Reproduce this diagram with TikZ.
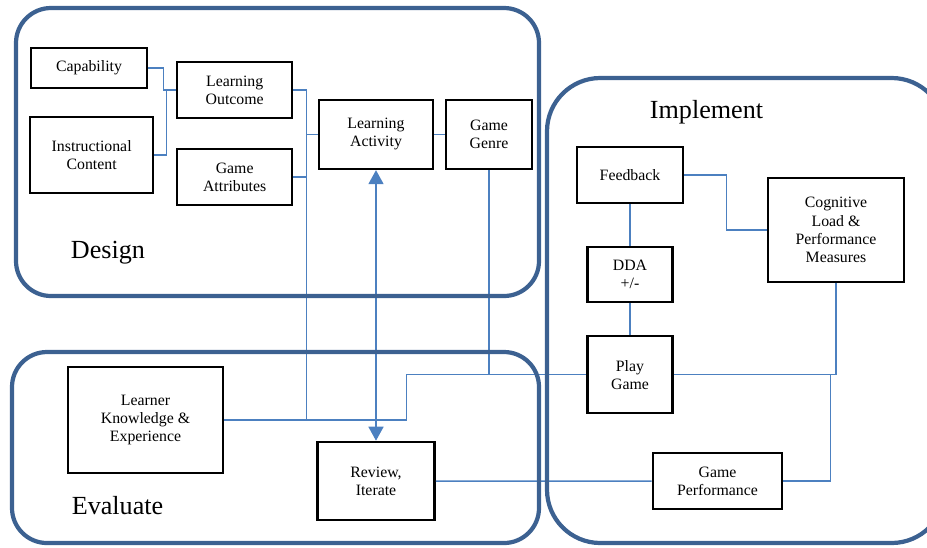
\documentclass[tikz,border=0pt]{standalone}
\usepackage{fontspec}
\setmainfont{Liberation Serif}
\usetikzlibrary{arrows.meta, positioning}
\definecolor{phaseblue}{RGB}{60,97,145}
\definecolor{linkblue}{RGB}{76,128,192}
\tikzstyle{stage} = [rectangle, draw=black, line width=2.2pt, fill=white, align=center, inner sep=0pt, font=\fontsize{13.5}{15.5}\selectfont]
\tikzstyle{phase} = [draw=phaseblue, line width=3.6pt, rounded corners=1.05cm]
\tikzstyle{phaselabel} = [anchor=base, inner sep=0pt, font=\fontsize{22.3}{26}\selectfont]
\tikzstyle{link} = [draw=linkblue, line width=1.3pt]

\begin{document}
\begin{tikzpicture}[node distance=2cm]
\useasboundingbox (0,0) rectangle (27.81,-16.41);
\clip (0,0) rectangle (27.81,-16.41);
\node (cap) [stage, minimum width=3.48cm, minimum height=1.2cm] at (2.67,-2.04) {Capability};
\node (ic) [stage, below of=cap, xshift=0.08cm, yshift=-0.61cm, minimum width=3.69cm, minimum height=2.28cm] {Instructional\\Content};
\node (lo) [stage, below of=cap, xshift=4.37cm, yshift=1.34cm, minimum width=3.45cm, minimum height=1.68cm] {Learning\\Outcome};
\node (ga) [stage, below of=lo, xshift=0cm, yshift=-0.61cm, minimum width=3.45cm, minimum height=1.68cm] {Game\\Attributes};
\node (la) [stage, below of=lo, xshift=4.24cm, yshift=0.67cm, minimum width=3.42cm, minimum height=2.07cm] {Learning\\Activity};
\node (gg) [stage, below of=la, xshift=3.39cm, yshift=2cm, minimum width=2.58cm, minimum height=2.07cm] {Game\\Genre};
\node (lke) [stage, below of=ic, xshift=1.615cm, yshift=-5.95cm, minimum width=4.65cm, minimum height=3.18cm] {Learner\\Knowledge \&\\Experience};
\node (rev) [stage, below of=la, xshift=0cm, yshift=-8.4cm, minimum width=3.51cm, minimum height=2.34cm] {Review,\\Iterate};
\node (fb) [stage, below of=gg, xshift=4.23cm, yshift=0.78cm, minimum width=3.18cm, minimum height=1.68cm] {Feedback};
\node (dda) [stage, below of=fb, xshift=0cm, yshift=-0.99cm, minimum width=2.55cm, minimum height=1.65cm] {DDA\\+/-};
\node (pg) [stage, below of=dda, xshift=0cm, yshift=-1cm, minimum width=2.55cm, minimum height=2.31cm] {Play\\Game};
\node (clpm) [stage, below of=fb, xshift=6.18cm, yshift=0.35cm, minimum width=4.08cm, minimum height=3.12cm] {Cognitive\\Load \&\\Performance\\Measures};
\node (gp) [stage, below of=pg, xshift=2.625cm, yshift=-1.19cm, minimum width=3.87cm, minimum height=1.68cm] {Game\\Performance};

\node (design) [phaselabel] at (3.24,-7.74) {Design};
\node (evaluate) [phaselabel] at (3.525,-15.42) {Evaluate};
\node (implement) [phaselabel] at (21.195,-3.54) {Implement};

% design links
\draw[link] (cap.east) -- ++(0.45,0) |- (lo.west);
\draw[link] (ic.east) -- ++(0.36,0) |- (lo.west);
\draw[link] (lo.east) -- ++(0.39,0) coordinate (bus) -- (bus |- lke.east);
\draw[link] (ga.east) -- (ga.east -| bus);
\draw[link] (la.west) -- (la.west -| bus);
\draw[link] (la.east) -- (gg.west);
% evaluate links
\draw[link] (lke.east) -- ++(5.46,0) |- (pg.west);
\draw[link] (gg.south) -- (gg.south |- pg.west);
\draw[link, {Triangle[length=4.2mm,width=4.5mm]}-{Triangle[length=4.2mm,width=4.5mm]}] (la.south) -- (rev.north);
\draw[link] (rev.east) -- (gp.west);
% implement links
\draw[link] (fb.east) -- ++(1.26,0) |- (clpm.west);
\draw[link] (fb.south) -- (dda.north);
\draw[link] (dda.south) -- (pg.north);
\draw[link] (pg.east) -| (clpm.south);
\draw[link] (gp.east) -- ++(1.41,0) coordinate (gpjoin) -- (gpjoin |- pg.east);

\draw[phase] (0.48,-0.24) rectangle (16.17,-8.88);
\draw[phase] (0.36,-10.56) rectangle (16.17,-16.29);
\draw[phase, rounded corners=1.6cm] (16.41,-2.34) rectangle (28.35,-16.29);
\end{tikzpicture}
\end{document}
